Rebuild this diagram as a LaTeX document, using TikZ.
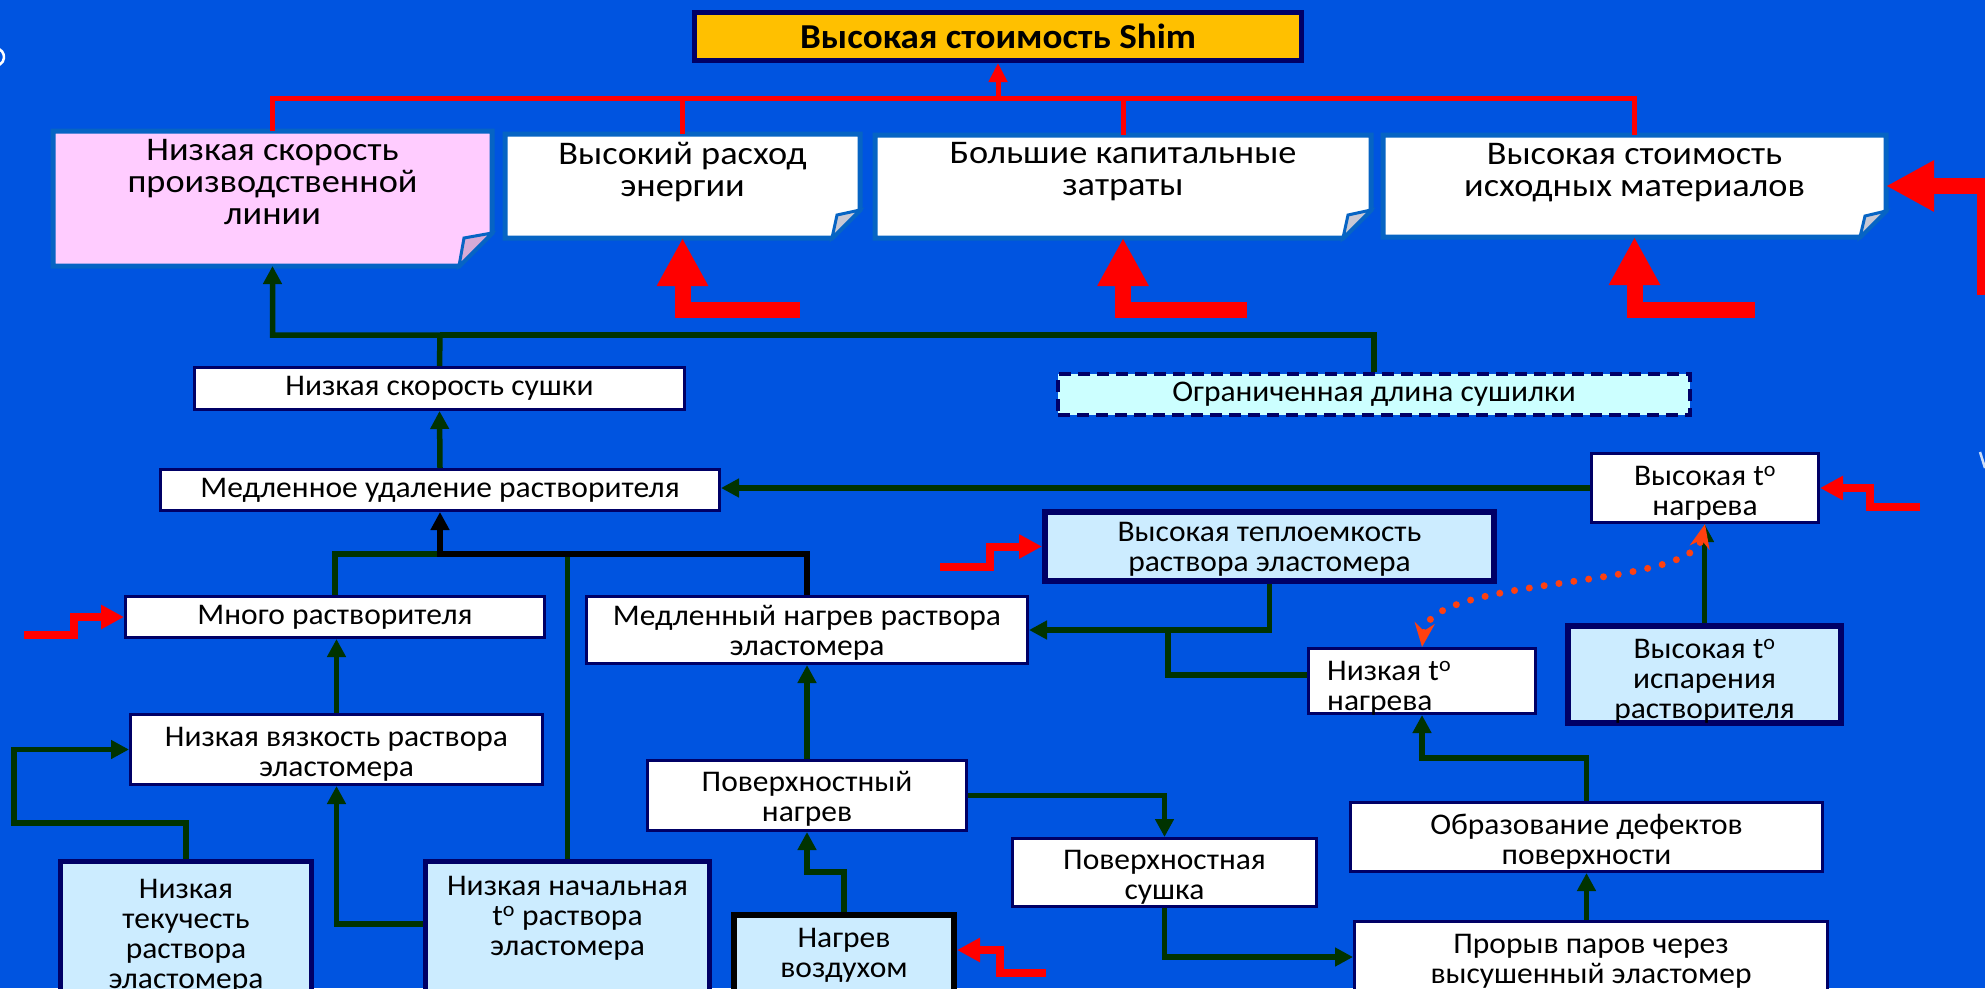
\documentclass[tikz,border=0pt]{standalone}
\usepackage{fontspec}
\setmainfont{Carlito}
\newfontfamily\topfam{Carlito}[FakeStretch=1.1]
\newfontfamily\midfam{Carlito}[FakeStretch=1.05]
\newfontfamily\titlefam{Carlito}[FakeStretch=1.06]
\usetikzlibrary{arrows.meta}

\definecolor{bgblue}{RGB}{0,84,224}
\definecolor{noteblue}{RGB}{6,100,196}
\definecolor{navy}{RGB}{0,0,102}
\definecolor{cgreen}{RGB}{0,51,0}
\definecolor{lblue}{RGB}{204,236,255}
\definecolor{lcyan}{RGB}{204,255,255}
\definecolor{notepink}{RGB}{255,204,255}
\definecolor{titlegold}{RGB}{255,192,0}
\definecolor{dotred}{RGB}{255,64,16}
\definecolor{flapgray}{RGB}{200,200,212}
\definecolor{flappink}{RGB}{214,170,214}

\newcommand\ftop{\topfam\fontsize{33}{32}\selectfont}
\newcommand\fmid{\midfam\fontsize{30}{30}\selectfont}
\newcommand\ftitle{\titlefam\fontsize{35}{36}\selectfont\bfseries}

% folded-corner note: name, centre x, centre y, width, height, fill, flap fill, fold
\newcommand\notebox[8]{%
  \node[minimum width=#4pt, minimum height=#5pt, line width=5pt] (#1) at (#2,#3) {};
  \draw[noteline, fill=#6] (#1.north west) -- (#1.north east)
    -- ([yshift=#8pt]#1.south east) -- ([xshift=-#8pt]#1.south east)
    -- (#1.south west) -- cycle;
  \draw[noteline, line width=3pt, fill=#7] ([xshift=-#8pt]#1.south east)
    -- ([yshift=#8pt]#1.south east)
    -- ([xshift=-#8pt+5pt, yshift=#8pt-5pt]#1.south east) -- cycle;
}

\begin{document}
\begin{tikzpicture}[x=1pt, y=-1pt,
  every node/.style={inner sep=0pt},
  noteline/.style={draw=noteblue, line width=5pt, line join=miter},
  notet/.style={font=\ftop, align=center},
  midt/.style={font=\fmid, align=center},
  wbox/.style={draw=navy, line width=3pt, fill=white, font=\fmid, align=center},
  bbox/.style={draw=navy, line width=6pt, fill=lblue},
  dbox/.style={draw=navy, line width=4pt, dash pattern=on 12pt off 7pt, fill=lcyan, font=\fmid},
  titlebox/.style={draw=navy, line width=5pt, fill=titlegold, font=\ftitle},
  gline/.style={draw=cgreen, line width=5.5pt},
  kline/.style={draw=black, line width=5.5pt},
  tip/.style={-{Triangle[length=18pt,width=18pt]}},
  redline/.style={draw=red, line width=5pt},
  rzig/.style={draw=red, line width=8pt, line join=miter, -{Triangle[length=23pt,width=23pt]}},
  rbig/.style={draw=red, line width=16pt, line join=miter, -{Triangle[length=48pt,width=48pt]}},
  dotline/.style={draw=dotred, line width=7pt, line cap=round, dash pattern=on 0pt off 15pt,
    {Stealth[length=24pt,width=20pt,line cap=butt]}-{Stealth[length=24pt,width=20pt,line cap=butt]}}
]
\useasboundingbox (0,0) rectangle (1985,988);
\fill[bgblue] (0,0) rectangle (1985,988);
\clip (0,0) rectangle (1985,988);

% stray marks along the left and right edges
\draw[white, line width=2.5pt] (-5,57) ++(-60:9) arc[start angle=-60, end angle=60, radius=9];
\draw[white!80!bgblue, line width=2.5pt] (1980,452) -- (1985,468);

% ---------- top level ----------
\node[titlebox, minimum width=607pt, minimum height=48pt] (title) at (998,36.5) {Высокая стоимость Shim};

\notebox{A}{272.5}{198.5}{434}{130}{notepink}{flappink}{33}
\notebox{B}{682.5}{186}{350}{99}{white}{flapgray}{28}
\notebox{C}{1123}{186.5}{491}{98}{white}{flapgray}{28}
\notebox{D}{1634.5}{186}{498}{97}{white}{flapgray}{26}

\node[notet] (At) at (272.5,182) {Низкая скорость\\производственной\\линии};
\node[notet] (Bt) at (682.5,172) {Высокий расход\\энергии};
\node[notet] (Ct) at (1123,172) {Большие капитальные\\затраты};
\node[notet] (Dt) at (1634.5,173) {Высокая стоимость\\исходных материалов};

% ---------- boxes ----------
\node[wbox, minimum width=490pt, minimum height=42pt] (lowdry) at (439.5,388.5) {Низкая скорость сушки};
\node[dbox, minimum width=632pt, minimum height=41pt] (limlen) at (1374,394.5) {Ограниченная длина сушилки};
\node[wbox, minimum width=559pt, minimum height=41pt] (slowrem) at (440,490) {Медленное удаление растворителя};
\node[wbox, minimum width=227pt, minimum height=69pt] (hightemp) at (1705,488) {};
\node[midt] (hightempt) at (1705,493) {Высокая t\textsuperscript{o}\\нагрева};
\node[bbox, minimum width=449pt, minimum height=69pt] (heatcap) at (1269.5,546.5) {};
\node[midt] (heatcapt) at (1269.5,549) {Высокая теплоемкость\\раствора эластомера};
\node[wbox, minimum width=419pt, minimum height=41pt] (muchsolv) at (335,617) {Много растворителя};
\node[wbox, minimum width=441pt, minimum height=67pt] (slowheat) at (807,630) {};
\node[midt] (slowheatt) at (807,633) {Медленный нагрев раствора\\эластомера};
\node[wbox, minimum width=227pt, minimum height=65pt] (lowtemp) at (1422,681) {};
\node[midt, align=left, anchor=west] (lowtempt) at (1327,688) {Низкая t\textsuperscript{o}\\нагрева};
\node[bbox, minimum width=273pt, minimum height=97pt] (evaptemp) at (1704.5,674.5) {};
\node[midt] (evaptempt) at (1704.5,681) {Высокая t\textsuperscript{o}\\испарения\\растворителя};
\node[wbox, minimum width=412pt, minimum height=70pt] (lowvisc) at (336.5,749.5) {};
\node[midt] (lowvisct) at (336.5,754) {Низкая вязкость раствора\\эластомера};
\node[wbox, minimum width=319pt, minimum height=70pt] (surfheat) at (807,795.5) {};
\node[midt] (surfheatt) at (807,799) {Поверхностный\\нагрев};
\node[wbox, minimum width=472pt, minimum height=69pt] (defects) at (1586.5,837) {};
\node[midt] (defectst) at (1586.5,842) {Образование дефектов\\поверхности};
\node[wbox, minimum width=304pt, minimum height=68pt] (surfdry) at (1164.5,872.5) {};
\node[midt] (surfdryt) at (1164.5,877) {Поверхностная\\сушка};
\node[wbox, minimum width=473pt, minimum height=100pt] (breakthrough) at (1591,971.5) {};
\node[midt] (breakthrought) at (1591,961) {Прорыв паров через\\высушенный эластомер};
\node[bbox, line width=5pt, minimum width=251pt, minimum height=150pt] (lowflow) at (186,936.5) {};
\node[midt] (lowflowt) at (186,936) {Низкая\\текучесть\\раствора\\эластомера};
\node[bbox, line width=5pt, minimum width=284pt, minimum height=150pt] (lowinit) at (567.5,936.5) {};
\node[midt] (lowinitt) at (567.5,918) {Низкая начальная\\t\textsuperscript{o} раствора\\эластомера};
\node[bbox, draw=black, minimum width=220pt, minimum height=120pt] (airheat) at (844,975) {};
\node[midt] (airheatt) at (844,955) {Нагрев\\воздухом};

% ---------- red links to the top box ----------
\coordinate (redbus) at (998,98);
\draw[redline] (A.north) |- (redbus) -| (D.north);
\draw[redline] (B.north) -- (B.north |- redbus);
\draw[redline] (C.north) -- (C.north |- redbus);
\draw[redline, -{Triangle[length=19pt,width=18pt]}] (redbus) -- (title.south);

% ---------- green links ----------
\coordinate (topbus) at (440,335);
\coordinate (midbus) at (440,554);
\coordinate (flowbend) at (14,823);
\coordinate (airbend) at (807,872);
\coordinate (defbend) at (1422,758);
\coordinate (tempbend) at (1168,630);

\draw[gline, tip] (lowdry.north) -- (topbus) -| (A.south);
\draw[gline] (limlen.north) |- (topbus);
\draw[gline, tip] (slowrem.north) -- (lowdry.south);
\draw[gline, tip] (hightemp.west) -- (hightemp.west -| slowrem.east);
\draw[gline] (muchsolv.north) |- (midbus);
\draw[gline] (lowinit.north) -- (lowinit.north |- midbus);
\draw[kline, tip] (slowheat.north) |- (midbus) -- (slowrem.south);
\draw[gline, tip] (lowvisc.north) -- (lowvisc.north |- muchsolv.south);
\draw[gline, tip] (lowflow.north) |- (flowbend) |- (lowvisc.west);
\draw[gline, tip] ([yshift=12.5pt]lowinit.west) -| (lowvisc.south);
\draw[gline, tip] (surfheat.north) -- (slowheat.south);
\draw[gline, tip] (airheat.north) |- (airbend) -- (surfheat.south);
\draw[gline, tip] (surfheat.east) -| (surfdry.north);
\draw[gline, tip] (surfdry.south) |- ([yshift=14.5pt]breakthrough.west);
\draw[gline, tip] (defects.south |- breakthrough.north) -- (defects.south);
\draw[gline, tip] (defects.north) |- (defbend) -- (lowtemp.south);
\draw[gline, tip] (heatcap.south) |- (slowheat.east);
\draw[gline] ([yshift=6pt]lowtemp.west) -| (tempbend);
\draw[gline, tip] (evaptemp.north) -- (evaptemp.north |- hightemp.south);

% ---------- dotted two-way link ----------
\draw[dotline] (lowtemp.north) .. controls (1430,575) and (1690,590) .. (hightemp.south);

% ---------- red inputs ----------
\draw[rzig] (24,635) -- (74,635) -- (74,617) -- (muchsolv.west);
\draw[rzig] (940,567) -- (990,567) -- (990,546.5) -- (heatcap.west);
\draw[rzig] (1046,973) -- (1000,973) -- (1000,950) -- ([yshift=25pt]airheat.east);
\draw[rzig] (1920,507) -- (1870,507) -- (1870,488) -- (hightemp.east);

\draw[rbig] (800,310) -- (682.5,310) -- (B.south);
\draw[rbig] (1247,310) -- (1123,310) -- (C.south);
\draw[rbig] (1755,310) -- (1634.5,310) -- (D.south);
\draw[rbig] (1985,295) -- (1985,186) -- (D.east);
\end{tikzpicture}
\end{document}
